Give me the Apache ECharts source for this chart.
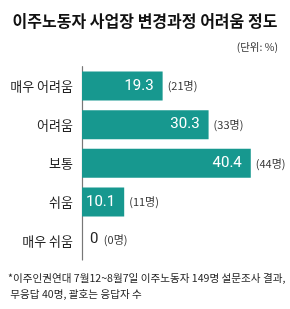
<!DOCTYPE html>
<html><head><meta charset="utf-8">
<style>html,body{margin:0;padding:0;background:#fff;}#c{width:290px;height:309px;}</style>
<script src="https://cdn.jsdelivr.net/npm/echarts@6/dist/echarts.min.js"></script>
</head><body><div id="c"></div>
<script>
const categories = ['매우 어려움', '어려움', '보통', '쉬움', '매우 쉬움'];
const percents = [19.3, 30.3, 40.4, 10.1, 0];
const counts = [21, 33, 44, 11, 0];
const titleText = '이주노동자 사업장 변경과정 어려움 정도';
const unitText = '(단위: %)';
const noteLines = ['*이주인권연대 7월12~8월7일 이주노동자 149명 설문조사 결과,', ' 무응답 40명, 괄호는 응답자 수'];

const FONT = '"Noto Sans CJK KR", "Noto Sans", sans-serif';
const TEAL = '#17988f';
const chart = echarts.init(document.getElementById('c'), null, {renderer: 'canvas'});

const valueData = percents.map((v) => v === 0
  ? {value: v, label: {show: false}}
  : {value: v});
const countData = percents.map((v, i) => v === 0
  ? {value: v, label: {formatter: '{z|' + v + '}  {c|(' + counts[i] + '명)}', distance: 8, offset: [0, -1]}}
  : {value: v, label: {formatter: '{c|(' + counts[i] + '명)}'}});

chart.setOption({
  animation: false,
  textStyle: {fontFamily: FONT},
  title: [
    {text: titleText, left: 'center', top: 8, textStyle: {fontFamily: FONT, fontSize: 16, fontWeight: 'bold', color: '#111'}},
    {text: unitText, right: 7, top: 37, textStyle: {fontFamily: FONT, fontSize: 10.5, fontWeight: 'normal', color: '#333'}}
  ],
  graphic: [
    {type: 'text', left: 8, top: 270, style: {text: noteLines.join('\n'), font: '10.6px ' + FONT, fill: '#222', lineHeight: 16}}
  ],
  grid: {left: 82, top: 66.7, right: 20, height: 193.3, containLabel: false},
  xAxis: {type: 'value', min: 0, max: 45, show: false},
  yAxis: {
    type: 'category', data: categories, inverse: true,
    axisLine: {show: true, lineStyle: {color: '#777', width: 1.2}},
    axisTick: {show: false},
    axisLabel: {fontFamily: FONT, fontSize: 13, color: '#222', margin: 9}
  },
  series: [
    {
      type: 'bar', data: valueData, barWidth: 29, itemStyle: {color: TEAL},
      label: {show: true, position: 'insideRight', distance: 9, color: '#fff', fontSize: 15, fontFamily: 'Roboto, sans-serif'}
    },
    {
      type: 'bar', data: countData, barWidth: 29, barGap: '-100%', itemStyle: {color: 'rgba(0,0,0,0)'},
      label: {show: true, position: 'right', distance: 5, rich: {
        c: {fontSize: 11, color: '#333', fontFamily: FONT},
        z: {fontSize: 15, color: '#222', fontFamily: 'Roboto, sans-serif'}
      }}
    }
  ]
});
</script></body></html>
